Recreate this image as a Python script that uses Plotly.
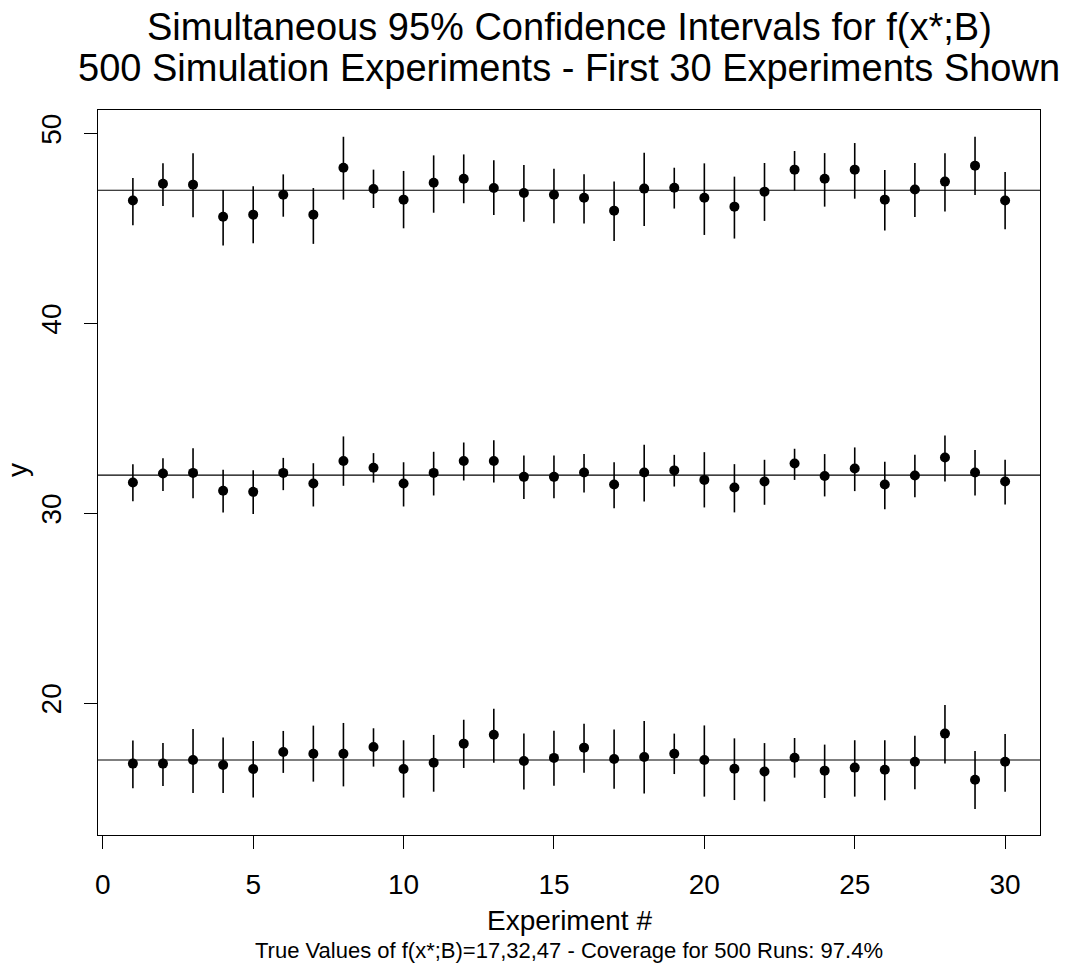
import plotly.graph_objects as go

# ---------------- data ----------------
experiments = list(range(1, 31))
true_values = [17, 32, 47]

top_est = [46.46, 47.35, 47.30, 45.61, 45.72, 46.77, 45.72, 48.19, 47.07, 46.51,
           47.40, 47.61, 47.12, 46.86, 46.77, 46.61, 45.93, 47.09, 47.14, 46.61,
           46.14, 46.93, 48.09, 47.61, 48.09, 46.51, 47.04, 47.46, 48.30, 46.46]
top_hi = [47.65, 48.42, 48.95, 47.02, 47.21, 47.84, 47.12, 49.82, 48.09, 48.02,
          48.84, 48.89, 48.58, 48.33, 48.14, 47.84, 47.46, 48.98, 48.19, 48.42,
          47.72, 48.44, 49.07, 48.96, 49.49, 48.07, 48.44, 48.95, 49.82, 47.96]
top_lo = [45.16, 46.18, 45.58, 44.09, 44.21, 45.61, 44.18, 46.51, 46.07, 45.00,
          45.82, 46.32, 45.70, 45.35, 45.26, 45.25, 44.33, 45.12, 46.04, 44.65,
          44.46, 45.39, 46.98, 46.14, 46.56, 44.88, 45.60, 45.88, 46.75, 44.95]

mid_est = [31.61, 32.09, 32.12, 31.18, 31.12, 32.12, 31.56, 32.75, 32.39, 31.56,
           32.12, 32.75, 32.75, 31.91, 31.91, 32.14, 31.51, 32.14, 32.25, 31.75,
           31.35, 31.67, 32.61, 31.96, 32.35, 31.51, 31.98, 32.93, 32.14, 31.67]
mid_hi = [32.58, 32.89, 33.42, 32.28, 32.26, 32.91, 32.63, 34.04, 33.16, 32.68,
          33.23, 33.72, 33.84, 33.04, 33.04, 33.11, 32.68, 33.60, 33.07, 33.21,
          32.58, 32.81, 33.39, 33.11, 33.46, 32.70, 33.07, 34.09, 33.32, 32.81]
mid_lo = [30.63, 31.16, 30.79, 30.04, 29.96, 31.21, 30.35, 31.44, 31.61, 30.35,
          30.93, 31.72, 31.61, 30.74, 30.79, 31.09, 30.26, 30.61, 31.40, 30.30,
          30.04, 30.44, 31.75, 30.88, 31.16, 30.21, 30.84, 31.67, 30.93, 30.46]

bot_est = [16.81, 16.81, 17.00, 16.74, 16.53, 17.42, 17.33, 17.33, 17.68, 16.53,
           16.86, 17.86, 18.33, 16.95, 17.11, 17.65, 17.05, 17.16, 17.33, 17.00,
           16.54, 16.39, 17.12, 16.44, 16.60, 16.49, 16.91, 18.39, 15.96, 16.91]
bot_hi = [18.02, 17.89, 18.63, 18.19, 18.00, 18.53, 18.81, 18.95, 18.67, 18.04,
          18.32, 19.12, 19.70, 18.40, 18.54, 18.91, 18.60, 19.05, 18.39, 18.82,
          18.14, 17.89, 18.16, 17.81, 18.04, 18.04, 18.28, 19.89, 17.47, 18.37]
bot_lo = [15.51, 15.63, 15.26, 15.26, 15.02, 16.32, 15.86, 15.61, 16.65, 15.02,
          15.33, 16.58, 16.86, 15.44, 15.65, 16.33, 15.49, 15.23, 16.26, 15.07,
          14.89, 14.82, 16.07, 15.00, 15.07, 14.88, 15.46, 16.82, 14.42, 15.33]

x_ticks = [0, 5, 10, 15, 20, 25, 30]
y_ticks = [20, 30, 40, 50]

title_line1 = "Simultaneous 95% Confidence Intervals for f(x*;B)"
title_line2 = "500 Simulation Experiments - First 30 Experiments Shown"
x_title = "Experiment #"
y_title = "y"
caption = "True Values of f(x*;B)=17,32,47 - Coverage for 500 Runs: 97.4%"

# ---------------- figure ----------------
FONT = "Liberation Sans, Arial, Helvetica, sans-serif"
W, H = 1075, 970
ML, MR, MT, MB = 98, 35, 110, 135
PW, PH = W - ML - MR, H - MT - MB

fig = go.Figure()

for est, hi, lo in [(bot_est, bot_hi, bot_lo), (mid_est, mid_hi, mid_lo), (top_est, top_hi, top_lo)]:
    fig.add_trace(go.Scatter(
        x=experiments, y=est, mode="markers",
        marker=dict(color="black", size=10, line=dict(width=0)),
        error_y=dict(type="data", symmetric=False,
                     array=[h - e for h, e in zip(hi, est)],
                     arrayminus=[e - l for e, l in zip(est, lo)],
                     width=0, thickness=1.6, color="black"),
        showlegend=False, hoverinfo="x+y",
    ))

for tv in true_values:
    fig.add_hline(y=tv, line=dict(color="black", width=1.1), layer="below")


def py(pix):
    return (H - MB - pix) / PH


def px(pix):
    return (pix - ML) / PW


annots = [
    dict(text=title_line1, x=0.5, y=py(27), size=38),
    dict(text=title_line2, x=0.5, y=py(68), size=38),
    dict(text=x_title, x=0.5, y=py(920), size=28),
    dict(text=caption, x=0.5, y=py(950), size=22),
]
for a in annots:
    fig.add_annotation(text=a["text"], x=a["x"], y=a["y"], xref="paper", yref="paper",
                       xanchor="center", yanchor="middle", showarrow=False, borderpad=0,
                       font=dict(family=FONT, size=a["size"], color="black"))
fig.add_annotation(text=y_title, x=px(17), y=py(470), xref="paper", yref="paper",
                   xanchor="center", yanchor="middle", showarrow=False, textangle=-90,
                   font=dict(family=FONT, size=28, color="black"))

axis_common = dict(showgrid=False, zeroline=False, showline=True, mirror=True,
                   linecolor="black", linewidth=1, ticks="outside", ticklen=13,
                   tickwidth=1, tickcolor="black",
                   tickfont=dict(family=FONT, size=28, color="black"))

fig.update_xaxes(range=[-0.16, 31.16], tickmode="array", tickvals=x_ticks,
                 ticklabelstandoff=11, **axis_common)
fig.update_yaxes(range=[13.05, 51.23], tickmode="array", tickvals=y_ticks,
                 tickangle=-90, ticklabelstandoff=12, **axis_common)

fig.update_layout(
    width=W, height=H,
    margin=dict(l=ML, r=MR, t=MT, b=MB, pad=0),
    paper_bgcolor="white", plot_bgcolor="white",
    font=dict(family=FONT, color="black"),
    showlegend=False,
)

fig.write_html("out.html")
